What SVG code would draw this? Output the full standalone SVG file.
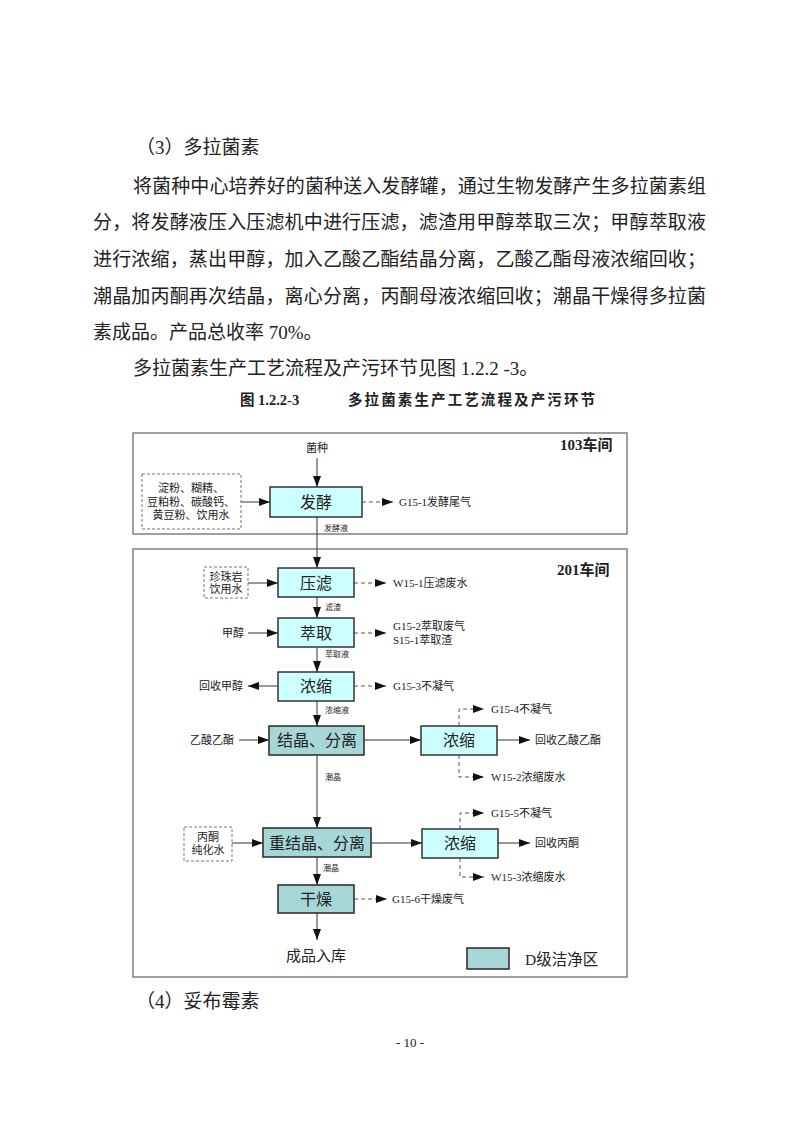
<svg xmlns="http://www.w3.org/2000/svg" width="800" height="1132" viewBox="0 0 800 1132">
<style>
text{font-family:"Liberation Serif","Noto Sans CJK SC",serif;fill:#222;dominant-baseline:central}
.body{font-size:19px}
.cap{font-size:14.5px;font-weight:bold}
.sec{fill:none;stroke:#808080;stroke-width:1.5}
.secl{font-size:15px;font-weight:bold}
.proc{fill:#ccffff;stroke:#333;stroke-width:1.5}
.hat{fill:url(#hatch);stroke:#333;stroke-width:1.6}
.inbox{fill:none;stroke:#777;stroke-width:1;stroke-dasharray:3,2}
.bl{font-size:16px;text-anchor:middle}
.lb{font-size:11px}
.lbm{font-size:11px;text-anchor:middle}
.sm{font-size:8px}
.ln{fill:none;stroke:#333;stroke-width:1;marker-end:url(#arr)}
.dl{fill:none;stroke:#555;stroke-width:1;stroke-dasharray:4,3;marker-end:url(#arr)}
</style>
<defs>
<marker id="arr" markerUnits="userSpaceOnUse" markerWidth="11" markerHeight="8" refX="11" refY="4" orient="auto"><path d="M0,0 L11,4 L0,8 z" fill="#111"/></marker>
<pattern id="hatch" width="2" height="2" patternUnits="userSpaceOnUse" patternTransform="rotate(45)"><rect width="2" height="2" fill="#b4e1e1"/><line x1="0.5" y1="0" x2="0.5" y2="2" stroke="#93c7c7" stroke-width="0.8"/></pattern>
</defs>
<rect width="800" height="1132" fill="#fff"/>

<g id="page-text">
<text class="body" x="136" y="147">（3）多拉菌素</text>
<text class="body" x="133" y="186" textLength="573" lengthAdjust="spacing">将菌种中心培养好的菌种送入发酵罐，通过生物发酵产生多拉菌素组</text>
<text class="body" x="93" y="222" textLength="613" lengthAdjust="spacing">分，将发酵液压入压滤机中进行压滤，滤渣用甲醇萃取三次；甲醇萃取液</text>
<text class="body" x="93" y="259" textLength="613" lengthAdjust="spacing">进行浓缩，蒸出甲醇，加入乙酸乙酯结晶分离，乙酸乙酯母液浓缩回收；</text>
<text class="body" x="93" y="296" textLength="613" lengthAdjust="spacing">潮晶加丙酮再次结晶，离心分离，丙酮母液浓缩回收；潮晶干燥得多拉菌</text>
<text class="body" x="93" y="332">素成品。产品总收率 70%。</text>
<text class="body" x="133" y="368">多拉菌素生产工艺流程及产污环节见图 1.2.2 -3。</text>
<text class="cap" x="240" y="400">图 1.2.2-3</text>
<text class="cap" x="348" y="400" textLength="247" lengthAdjust="spacing">多拉菌素生产工艺流程及产污环节</text>
<text class="body" x="136" y="1001">（4）妥布霉素</text>
<text x="410" y="1042" style="font-size:13px;text-anchor:middle">- 10 -</text>
</g>

<g id="sections">
<rect class="sec" x="133" y="433" width="494" height="101"/>
<text class="secl" x="560" y="445">103车间</text>
<rect class="sec" x="133" y="549" width="494" height="428"/>
<text class="secl" x="557" y="570">201车间</text>
</g>

<g id="connectors">
<path class="ln" d="M317,458 V487"/>
<path class="ln" d="M241,502 H270"/>
<path class="dl" d="M362,502 H393"/>
<path class="ln" d="M317,517 V568"/>
<path class="ln" d="M248,583 H278"/>
<path class="dl" d="M354,583 H386"/>
<path class="ln" d="M317,597 V618"/>
<path class="ln" d="M248,633 H278"/>
<path class="dl" d="M354,633 H386"/>
<path class="ln" d="M317,647 V672"/>
<path class="ln" d="M278,686 H248"/>
<path class="dl" d="M354,686 H386"/>
<path class="ln" d="M317,701 V726"/>
<path class="ln" d="M239,740 H269"/>
<path class="ln" d="M364,740 H421"/>
<path class="ln" d="M497,740 H530"/>
<path class="dl" d="M459,726 V709 H484"/>
<path class="dl" d="M459,755 V777 H484"/>
<path class="ln" d="M317,755 V828"/>
<path class="ln" d="M232,843 H263"/>
<path class="ln" d="M371,843 H422"/>
<path class="ln" d="M498,843 H530"/>
<path class="dl" d="M460,829 V813 H484"/>
<path class="dl" d="M460,858 V877 H484"/>
<path class="ln" d="M317,857 V885"/>
<path class="dl" d="M354,899 H387"/>
<path class="ln" d="M317,913 V940"/>
<text class="sm" x="324" y="528">发酵液</text>
<text class="sm" x="325" y="607">滤渣</text>
<text class="sm" x="325" y="654">萃取液</text>
<text class="sm" x="325" y="710">浓缩液</text>
<text class="sm" x="325" y="777">潮晶</text>
<text class="sm" x="323" y="868">潮晶</text>
</g>

<g id="n-jz"><text class="lbm" x="317" y="448">菌种</text></g>
<g id="n-raw1">
<rect class="inbox" x="142" y="474" width="99" height="55"/>
<text class="lbm" x="191" y="488">淀粉、糊精、</text>
<text class="lbm" x="191" y="502">豆粕粉、碳酸钙、</text>
<text class="lbm" x="191" y="515">黄豆粉、饮用水</text>
</g>
<g id="n-fj"><rect class="proc" x="270" y="487" width="92" height="30"/><text class="bl" x="316" y="502">发酵</text></g>
<g id="n-g151"><text class="lb" x="399" y="502">G15-1发酵尾气</text></g>

<g id="n-raw2">
<rect class="inbox" x="204" y="567" width="44" height="31"/>
<text class="lbm" x="226" y="577">珍珠岩</text>
<text class="lbm" x="226" y="589">饮用水</text>
</g>
<g id="n-yl"><rect class="proc" x="278" y="568" width="76" height="29"/><text class="bl" x="316" y="583">压滤</text></g>
<g id="n-w151"><text class="lb" x="393" y="583">W15-1压滤废水</text></g>

<g id="n-jc"><text class="lbm" x="233" y="633">甲醇</text></g>
<g id="n-cq"><rect class="proc" x="278" y="618" width="76" height="29"/><text class="bl" x="316" y="633">萃取</text></g>
<g id="n-g152"><text class="lb" x="393" y="626">G15-2萃取废气</text><text class="lb" x="393" y="640">S15-1萃取渣</text></g>

<g id="n-hsjc"><text class="lbm" x="221" y="686">回收甲醇</text></g>
<g id="n-ns1"><rect class="proc" x="278" y="672" width="76" height="29"/><text class="bl" x="316" y="686">浓缩</text></g>
<g id="n-g153"><text class="lb" x="393" y="686">G15-3不凝气</text></g>

<g id="n-ysyz"><text class="lbm" x="212" y="740">乙酸乙酯</text></g>
<g id="n-jj"><rect class="hat" x="269" y="726" width="95" height="29"/><text class="bl" x="317" y="740">结晶、分离</text></g>
<g id="n-ns2"><rect class="proc" x="421" y="726" width="76" height="29"/><text class="bl" x="459" y="740">浓缩</text></g>
<g id="n-hsys"><text class="lb" x="535" y="740">回收乙酸乙酯</text></g>
<g id="n-g154"><text class="lb" x="491" y="709">G15-4不凝气</text></g>
<g id="n-w152"><text class="lb" x="491" y="777">W15-2浓缩废水</text></g>

<g id="n-raw3">
<rect class="inbox" x="184" y="827" width="48" height="34"/>
<text class="lbm" x="208" y="837">丙酮</text>
<text class="lbm" x="208" y="850">纯化水</text>
</g>
<g id="n-cjj"><rect class="hat" x="263" y="828" width="108" height="29"/><text class="bl" x="317" y="843">重结晶、分离</text></g>
<g id="n-ns3"><rect class="proc" x="422" y="829" width="76" height="29"/><text class="bl" x="460" y="843">浓缩</text></g>
<g id="n-hsbt"><text class="lb" x="535" y="843">回收丙酮</text></g>
<g id="n-g155"><text class="lb" x="491" y="813">G15-5不凝气</text></g>
<g id="n-w153"><text class="lb" x="491" y="877">W15-3浓缩废水</text></g>

<g id="n-gz"><rect class="hat" x="278" y="885" width="76" height="28"/><text class="bl" x="316" y="899">干燥</text></g>
<g id="n-g156"><text class="lb" x="392" y="899">G15-6干燥废气</text></g>
<g id="n-cp"><text x="316" y="956" style="font-size:15px;text-anchor:middle">成品入库</text></g>

<g id="legend">
<rect class="hat" x="467" y="948" width="42" height="21"/>
<text x="525" y="959" style="font-size:15.5px">D级洁净区</text>
</g>
</svg>
